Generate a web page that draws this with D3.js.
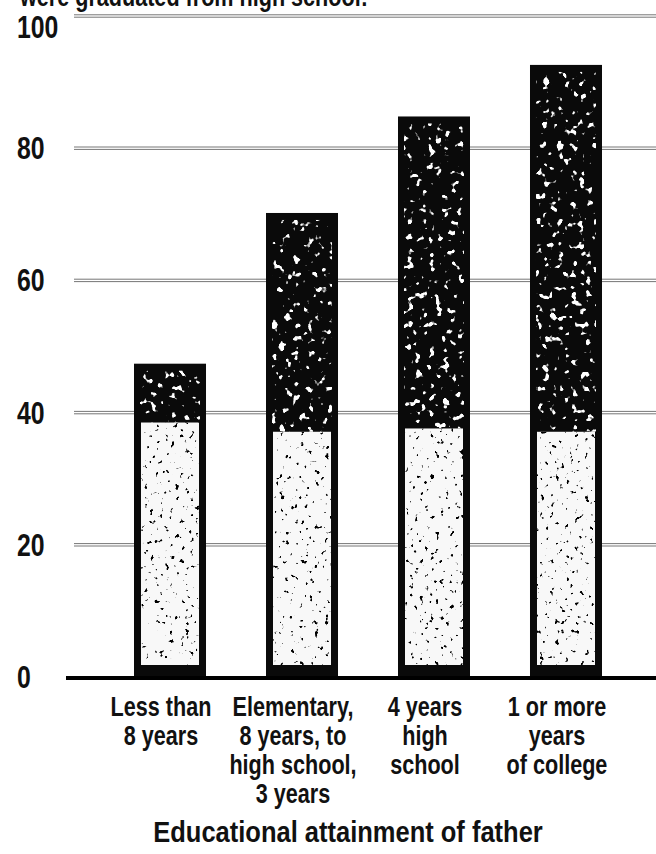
<!DOCTYPE html>
<html>
<head>
<meta charset="utf-8">
<script src="https://cdn.jsdelivr.net/npm/d3@7"></script>
<style>
  body { margin: 0; background: #fff; }
  text { font-family: "Liberation Sans", Arial, sans-serif; font-weight: bold; fill: #111; }
</style>
</head>
<body>
<div id="chart"></div>
<script>
// values (percent)
var categories = ["less8", "elem", "hs4", "college"];
var catLabels = [
    ["Less than", "8 years"],
    ["Elementary,", "8 years, to", "high school,", "3 years"],
    ["4 years", "high", "school"],
    ["1 or more", "years", "of college"]
];
var totals = [47.4, 70.2, 84.8, 92.6];   // top of each bar
var lower = [38.5, 37.1, 37.6, 37.1];    // top of the light lower part
var yTicks = [0, 20, 40, 60, 80, 100];

var width = 656,
    height = 854;
var sx = 0.8; // horizontal squeeze, the print uses a condensed face

var svg = d3.select("#chart").append("svg")
    .attr("width", width)
    .attr("height", height);

// speckle texture, like the worn print
var defs = svg.append("defs");
function speckle(id, col, freq, k, off, seed) {
    var f = defs.append("filter").attr("id", id)
        .attr("x", 0).attr("y", 0).attr("width", 1).attr("height", 1);
    f.append("feTurbulence").attr("type", "fractalNoise")
        .attr("baseFrequency", freq).attr("numOctaves", 2).attr("seed", seed).attr("result", "n");
    f.append("feColorMatrix").attr("in", "n").attr("type", "matrix")
        .attr("values", "0 0 0 0 " + col + " 0 0 0 0 " + col + " 0 0 0 0 " + col + " " + k + " 0 0 0 " + off)
        .attr("result", "m");
    f.append("feComposite").attr("in", "m").attr("in2", "SourceGraphic").attr("operator", "in");
}
speckle("spW", 1, 0.14, 14, -8.7, 4);
speckle("spB", 0, 0.2, 14, -9.4, 9);

var x = d3.scaleBand()
    .domain(categories)
    .range([104, 632])
    .paddingInner(0.4545)
    .paddingOuter(0.2273);

var y = d3.scaleLinear()
    .domain([0, 100])
    .range([677, 16]);

// double rule gridlines
var grid = svg.append("g");
yTicks.filter(function(d){ return d > 0; }).forEach(function(d) {
    [-1.2, 1.2].forEach(function(o) {
        grid.append("line")
            .attr("x1", 74).attr("x2", width)
            .attr("y1", y(d) + o).attr("y2", y(d) + o)
            .attr("stroke", "#666")
            .attr("stroke-width", 0.9);
    });
});

// tick labels (the top one sits just under its rule)
svg.append("g").selectAll("g")
    .data(yTicks)
    .enter().append("g")
    .attr("transform", function(d){
        var dy = d === 100 ? 22 : 11;
        return "translate(17," + (y(d) + dy) + ") scale(" + sx + ",1)";
    })
    .append("text")
    .style("font-size", "31px")
    .text(function(d){ return d; });

// bars
var bars = svg.append("g").selectAll("g")
    .data(categories)
    .enter().append("g");

bars.append("rect")
    .attr("x", function(d){ return x(d); })
    .attr("y", function(d, i){ return y(totals[i]); })
    .attr("width", x.bandwidth())
    .attr("height", function(d, i){ return y(0) - y(totals[i]); })
    .attr("fill", "#0a0a0a");

// white flecks in the dark upper part
bars.append("rect")
    .attr("x", function(d){ return x(d) + 6; })
    .attr("y", function(d, i){ return y(totals[i]) + 7; })
    .attr("width", x.bandwidth() - 12)
    .attr("height", function(d, i){ return y(lower[i]) - y(totals[i]) - 7; })
    .attr("fill", "#000")
    .attr("filter", "url(#spW)");

// light lower part
bars.append("rect")
    .attr("x", function(d){ return x(d) + 7; })
    .attr("y", function(d, i){ return y(lower[i]); })
    .attr("width", x.bandwidth() - 14)
    .attr("height", function(d, i){ return y(0) - y(lower[i]) - 12; })
    .attr("fill", "#f8f8f8");

bars.append("rect")
    .attr("x", function(d){ return x(d) + 7; })
    .attr("y", function(d, i){ return y(lower[i]); })
    .attr("width", x.bandwidth() - 14)
    .attr("height", function(d, i){ return y(0) - y(lower[i]) - 12; })
    .attr("fill", "#000")
    .attr("filter", "url(#spB)");

// baseline
svg.append("line")
    .attr("x1", 66).attr("x2", width)
    .attr("y1", y(0) + 1).attr("y2", y(0) + 1)
    .attr("stroke", "#000")
    .attr("stroke-width", 4);

// category labels
categories.forEach(function(c, i) {
    catLabels[i].forEach(function(line, j) {
        svg.append("g")
            .attr("transform", "translate(" + (x(c) + x.bandwidth() / 2 - 9) + "," + (716 + j * 29) + ") scale(" + sx + ",1)")
            .append("text")
            .attr("text-anchor", "middle")
            .style("font-size", "27px")
            .text(line);
    });
});

// axis title
svg.append("g")
    .attr("transform", "translate(348,842) scale(0.85,1)")
    .append("text")
    .attr("text-anchor", "middle")
    .style("font-size", "30px")
    .text("Educational attainment of father");

// chart heading, cut off by the top edge
svg.append("g")
    .attr("transform", "translate(20,6) scale(" + sx + ",1)")
    .append("text")
    .style("font-size", "27px")
    .text("were graduated from high school:");
</script>
</body>
</html>
